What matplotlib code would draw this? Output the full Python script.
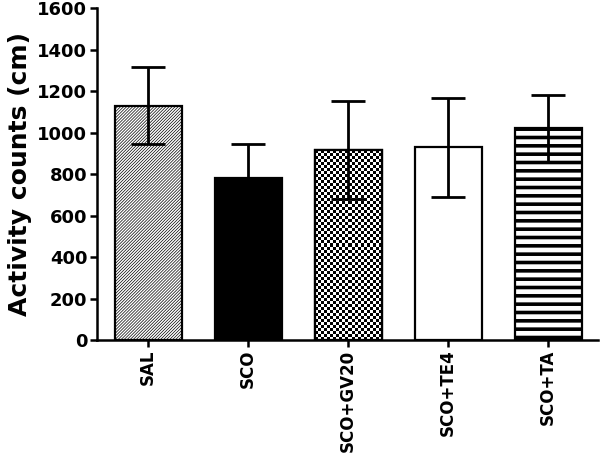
import numpy as np
import matplotlib
matplotlib.use("Agg")
import matplotlib.pyplot as plt

categories = ["SAL", "SCO", "SCO+GV20", "SCO+TE4", "SCO+TA"]
means = [1130, 780, 915, 928, 1020]
errors = [185, 165, 235, 237, 160]
yticks = [0, 200, 400, 600, 800, 1000, 1200, 1400, 1600]

plt.rcParams['font.family'] = ['DejaVu Sans']
plt.rcParams['font.weight'] = 'bold'

fig = plt.figure(figsize=(6.0, 4.58), dpi=100)
ax = fig.add_axes([0.1617, 0.2576, 0.835, 0.7249])

x = np.arange(len(categories))
width = 0.67

styles = [
    dict(facecolor='white', hatch='/' * 11, hlw=0.5),
    dict(facecolor='black', hatch=None, hlw=1.0),
    dict(facecolor='white', hatch=None, hlw=1.0),
    dict(facecolor='white', hatch=None, hlw=1.0),
    dict(facecolor='white', hatch='--', hlw=2.6),
]

bars = []
for i, (xi, m) in enumerate(zip(x, means)):
    st = styles[i]
    with plt.rc_context({'hatch.linewidth': st['hlw'], 'hatch.color': 'black'}):
        b = ax.bar(xi, m, width=width, facecolor=st['facecolor'],
                   edgecolor='black', linewidth=1.6, hatch=st['hatch'], zorder=2)
    bars.append(b[0])

# checkerboard fill for SCO+GV20
p = bars[2]
x0, w, h = p.get_x(), p.get_width(), p.get_height()
ncols = 22
nrows = int(round(h / 14.5))
checker = (np.add.outer(np.arange(nrows), np.arange(ncols)) % 2).astype(float)
im = ax.imshow(checker, cmap='gray', extent=(x0, x0 + w, 0, h), aspect='auto',
               interpolation='nearest', zorder=2.1, vmin=0, vmax=1)
im.set_clip_path(p)
ax.bar(x[2], means[2], width=width, facecolor='none', edgecolor='black',
       linewidth=1.6, zorder=2.2)

ax.errorbar(x, means, yerr=errors, fmt='none', ecolor='black', elinewidth=2.0,
            capsize=12, capthick=2.0, zorder=3)

ax.set_xlim(-0.51, 4.5)
ax.set_ylim(0, 1600)
ax.set_yticks(yticks)
ax.set_yticklabels([str(v) for v in yticks], fontsize=13, fontweight='bold')
ax.set_xticks(x)
ax.set_xticklabels(categories, rotation=90, fontsize=12, fontweight='bold')
ax.set_ylabel("Activity counts (cm)", fontsize=18, fontweight='bold', labelpad=4)

for s in ['top', 'right']:
    ax.spines[s].set_visible(False)
for s in ['left', 'bottom']:
    ax.spines[s].set_linewidth(1.8)
ax.tick_params(axis='both', width=1.8, length=5, direction='out', pad=2)

fig.savefig("out.png", dpi=100)
